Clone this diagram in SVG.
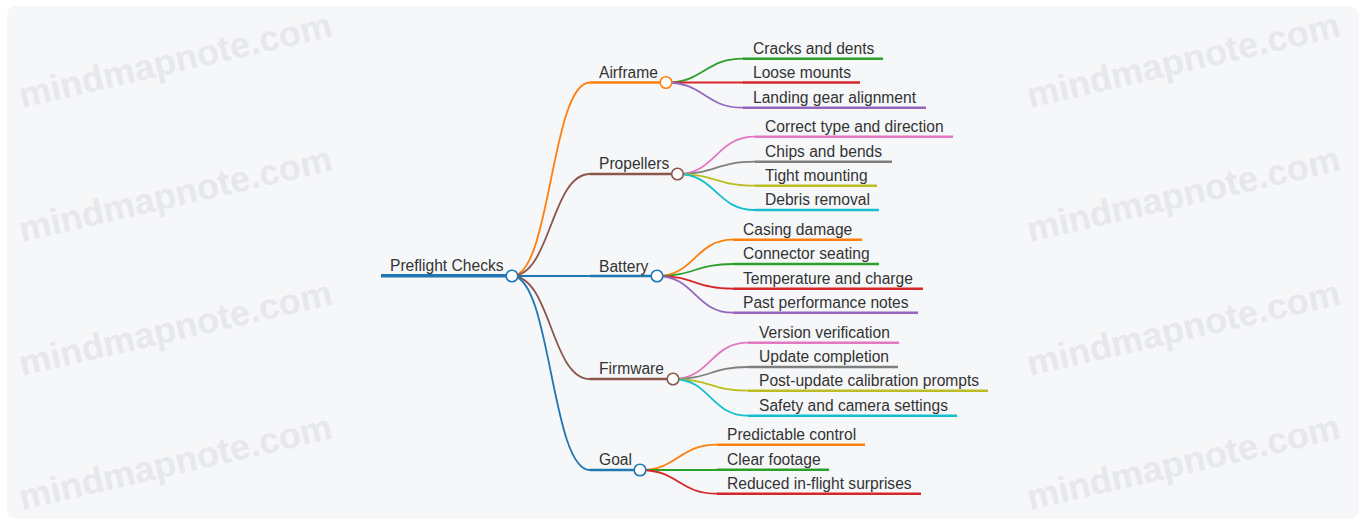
<svg xmlns="http://www.w3.org/2000/svg" width="1364" height="525" viewBox="0 0 1364 525">
  <style>
    text { font-family: "Liberation Sans", Arial, sans-serif; font-size: 15.6px; fill: #333; }
    .wm { font-family: "Liberation Sans", Arial, sans-serif; font-size: 36px; font-weight: bold; fill: #e7e8eb; }
    .link { fill: none; stroke-width: 1.8; stroke-linecap: round; }
    .bar { fill: none; stroke-width: 2.4; }
    .dot { fill: #fff; stroke-width: 1.6; }
    .c-blue { stroke: #1f77b4; } .c-orange { stroke: #ff7f0e; } .c-green { stroke: #2ca02c; }
    .c-red { stroke: #d62728; } .c-purple { stroke: #9467bd; } .c-brown { stroke: #8c564b; }
    .c-pink { stroke: #e377c2; } .c-gray { stroke: #7f7f7f; } .c-olive { stroke: #bcbd22; }
    .c-cyan { stroke: #17becf; }
  </style>

  <!-- canvas -->
  <rect x="0" y="0" width="1364" height="525" fill="#ffffff"/>
  <rect x="7" y="6" width="1352" height="513" rx="9" fill="#f6f7f9"/>

  <!-- watermark -->
  <g id="watermark">
    <text class="wm" text-anchor="middle" transform="translate(178,72) rotate(-13)">mindmapnote.com</text>
    <text class="wm" text-anchor="middle" transform="translate(178,206) rotate(-13)">mindmapnote.com</text>
    <text class="wm" text-anchor="middle" transform="translate(178,340) rotate(-13)">mindmapnote.com</text>
    <text class="wm" text-anchor="middle" transform="translate(178,474) rotate(-13)">mindmapnote.com</text>
    <text class="wm" text-anchor="middle" transform="translate(1186,72) rotate(-13)">mindmapnote.com</text>
    <text class="wm" text-anchor="middle" transform="translate(1186,206) rotate(-13)">mindmapnote.com</text>
    <text class="wm" text-anchor="middle" transform="translate(1186,340) rotate(-13)">mindmapnote.com</text>
    <text class="wm" text-anchor="middle" transform="translate(1186,474) rotate(-13)">mindmapnote.com</text>
  </g>

  <!-- connectors -->
  <g id="connectors">
    <!-- root to branches -->
    <path class="link c-orange" d="M512,276 C551,276 551,82.5 590,82.5"/>
    <path class="link c-brown" d="M512,276 C551,276 551,174 590,174"/>
    <path class="link c-blue" d="M512,276 L590,276"/>
    <path class="link c-brown" d="M512,276 C551,276 551,379 590,379"/>
    <path class="link c-blue" d="M512,276 C551,276 551,470 590,470"/>
    <!-- Airframe -->
    <path class="link c-green" d="M666,82.5 C704.5,82.5 704.5,58.7 743,58.7"/>
    <path class="link c-red" d="M666,82.5 L743,82.5"/>
    <path class="link c-purple" d="M666,82.5 C704.5,82.5 704.5,107.7 743,107.7"/>
    <!-- Propellers -->
    <path class="link c-pink" d="M677.5,174 C716,174 716,136.7 755,136.7"/>
    <path class="link c-gray" d="M677.5,174 C716,174 716,161.7 755,161.7"/>
    <path class="link c-olive" d="M677.5,174 C716,174 716,185.7 755,185.7"/>
    <path class="link c-cyan" d="M677.5,174 C716,174 716,210 755,210"/>
    <!-- Battery -->
    <path class="link c-orange" d="M657,276 C695,276 695,239.7 733,239.7"/>
    <path class="link c-green" d="M657,276 C695,276 695,264 733,264"/>
    <path class="link c-red" d="M657,276 C695,276 695,288.7 733,288.7"/>
    <path class="link c-purple" d="M657,276 C695,276 695,312.7 733,312.7"/>
    <!-- Firmware -->
    <path class="link c-pink" d="M673,379 C710.5,379 710.5,342.7 748,342.7"/>
    <path class="link c-gray" d="M673,379 C710.5,379 710.5,367 748,367"/>
    <path class="link c-olive" d="M673,379 C710.5,379 710.5,390.7 748,390.7"/>
    <path class="link c-cyan" d="M673,379 C710.5,379 710.5,415.7 748,415.7"/>
    <!-- Goal -->
    <path class="link c-orange" d="M640,470 C678.5,470 678.5,444.7 717,444.7"/>
    <path class="link c-green" d="M640,470 L717,470"/>
    <path class="link c-red" d="M640,470 C678.5,470 678.5,493.7 717,493.7"/>
  </g>

  <!-- root -->
  <g id="root">
    <line class="c-blue" x1="381" y1="275.7" x2="512" y2="275.7" stroke-width="3.6"/>
    <text x="390" y="271">Preflight Checks</text>
    <circle class="dot c-blue" cx="512" cy="276" r="5.8"/>
  </g>

  <!-- branch: Airframe -->
  <g id="airframe">
    <line class="bar c-orange" x1="590" y1="82.5" x2="666" y2="82.5"/>
    <text x="599" y="77.7">Airframe</text>
    <circle class="dot c-orange" cx="666" cy="82.5" r="5.8"/>
  </g>
  <g id="airframe-cracks"><line class="bar c-green" x1="743" y1="58.7" x2="883" y2="58.7"/><text x="753" y="54">Cracks and dents</text></g>
  <g id="airframe-mounts"><line class="bar c-red" x1="743" y1="82.5" x2="860" y2="82.5"/><text x="753" y="78">Loose mounts</text></g>
  <g id="airframe-gear"><line class="bar c-purple" x1="743" y1="107.7" x2="926" y2="107.7"/><text x="753" y="103">Landing gear alignment</text></g>

  <!-- branch: Propellers -->
  <g id="propellers">
    <line class="bar c-brown" x1="590" y1="174" x2="677.5" y2="174"/>
    <text x="599" y="168.5">Propellers</text>
    <circle class="dot c-brown" cx="677.5" cy="174" r="5.8"/>
  </g>
  <g id="prop-type"><line class="bar c-pink" x1="755" y1="136.7" x2="953" y2="136.7"/><text x="765" y="132">Correct type and direction</text></g>
  <g id="prop-chips"><line class="bar c-gray" x1="755" y1="161.7" x2="892" y2="161.7"/><text x="765" y="157">Chips and bends</text></g>
  <g id="prop-mount"><line class="bar c-olive" x1="755" y1="185.7" x2="877" y2="185.7"/><text x="765" y="181">Tight mounting</text></g>
  <g id="prop-debris"><line class="bar c-cyan" x1="755" y1="210" x2="879" y2="210"/><text x="765" y="205.3">Debris removal</text></g>

  <!-- branch: Battery -->
  <g id="battery">
    <line class="bar c-blue" x1="590" y1="276" x2="657" y2="276"/>
    <text x="599" y="271.7">Battery</text>
    <circle class="dot c-blue" cx="657" cy="276" r="5.8"/>
  </g>
  <g id="bat-casing"><line class="bar c-orange" x1="733" y1="239.7" x2="862" y2="239.7"/><text x="743" y="235">Casing damage</text></g>
  <g id="bat-connector"><line class="bar c-green" x1="733" y1="264" x2="879" y2="264"/><text x="743" y="259.3">Connector seating</text></g>
  <g id="bat-temp"><line class="bar c-red" x1="733" y1="288.7" x2="923" y2="288.7"/><text x="743" y="284">Temperature and charge</text></g>
  <g id="bat-notes"><line class="bar c-purple" x1="733" y1="312.7" x2="918" y2="312.7"/><text x="743" y="308">Past performance notes</text></g>

  <!-- branch: Firmware -->
  <g id="firmware">
    <line class="bar c-brown" x1="590" y1="379" x2="673" y2="379"/>
    <text x="599" y="373.5">Firmware</text>
    <circle class="dot c-brown" cx="673" cy="379" r="5.8"/>
  </g>
  <g id="fw-version"><line class="bar c-pink" x1="748" y1="342.7" x2="899" y2="342.7"/><text x="759" y="338">Version verification</text></g>
  <g id="fw-update"><line class="bar c-gray" x1="748" y1="367" x2="898" y2="367"/><text x="759" y="362.3">Update completion</text></g>
  <g id="fw-calib"><line class="bar c-olive" x1="748" y1="390.7" x2="988" y2="390.7"/><text x="759" y="386">Post-update calibration prompts</text></g>
  <g id="fw-safety"><line class="bar c-cyan" x1="748" y1="415.7" x2="957" y2="415.7"/><text x="759" y="411">Safety and camera settings</text></g>

  <!-- branch: Goal -->
  <g id="goal">
    <line class="bar c-blue" x1="590" y1="470" x2="640" y2="470"/>
    <text x="599" y="464.5">Goal</text>
    <circle class="dot c-blue" cx="640" cy="470" r="5.8"/>
  </g>
  <g id="goal-control"><line class="bar c-orange" x1="717" y1="444.7" x2="865" y2="444.7"/><text x="727" y="440">Predictable control</text></g>
  <g id="goal-footage"><line class="bar c-green" x1="717" y1="469.7" x2="829" y2="469.7"/><text x="727" y="465">Clear footage</text></g>
  <g id="goal-surprises"><line class="bar c-red" x1="717" y1="493.7" x2="921" y2="493.7"/><text x="727" y="489">Reduced in-flight surprises</text></g>
</svg>
